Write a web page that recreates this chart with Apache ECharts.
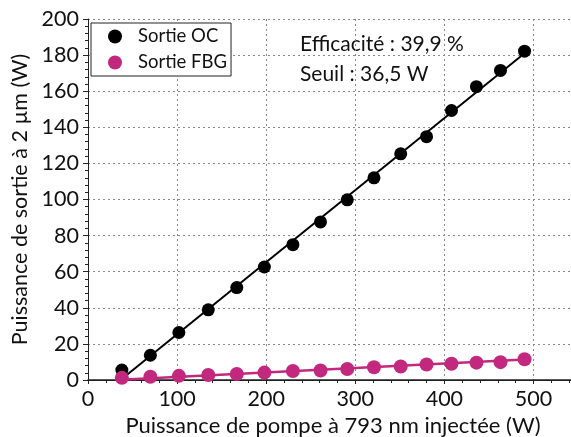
<!DOCTYPE html>
<html>
<head>
<meta charset="utf-8">
<script src="https://cdn.jsdelivr.net/npm/echarts@6/dist/echarts.min.js"></script>
<style>
  html, body { margin: 0; padding: 0; background: #fff; }
  #chart { width: 571px; height: 437px; }
</style>
</head>
<body>
<div id="chart"></div>
<script>
// pump power (W) and measured outputs (W)
const pumpPower = [38, 70, 102, 135, 167, 198, 230, 261, 291, 321, 351, 380, 408, 436, 463, 490];
const outOC = [5.5, 13.7, 26.3, 38.9, 51.2, 62.6, 75.0, 87.6, 99.8, 112.0, 125.3, 134.8, 149.3, 162.5, 171.5, 182.2];
const outFBG = [1.2, 1.8, 2.3, 2.8, 3.3, 4.1, 5.0, 5.3, 6.1, 7.1, 7.5, 8.6, 9.0, 9.6, 9.9, 11.5];

// linear fit endpoints
const fitOC = [[36.5, 0], [490, 181]];
const fitFBG = [[36.5, 0.1], [490, 11.3]];

const xTicks = [0, 550, 100];   // min, max, interval
const yTicks = [0, 200, 20];

const annotations = ['Efficacité : 39,9 %', 'Seuil : 36,5 W'];

const FONT = 'Lato';
const PINK = '#c2287e';

const chart = echarts.init(document.getElementById('chart'));

const pair = (xs, ys) => xs.map((x, i) => [x, ys[i]]);

chart.setOption({
  animation: false,
  textStyle: { fontFamily: FONT },
  grid: { left: 88, top: 19, right: -7, bottom: 57, outerBoundsMode: 'none', containLabel: false },
  legend: {
    left: 91, top: 23,
    orient: 'vertical',
    data: ['Sortie OC', 'Sortie FBG'],
    icon: 'circle',
    itemWidth: 14, itemHeight: 14, itemGap: 7,
    padding: [4, 4, 4, 17],
    borderColor: '#222', borderWidth: 1, backgroundColor: '#fff',
    textStyle: { fontFamily: FONT, fontSize: 18.5, color: '#111', padding: [0, 0, 0, 11], lineHeight: 19 }
  },
  graphic: annotations.map((t, i) => ({
    type: 'text', left: 300, top: 34 + i * 30,
    style: { text: t, fontFamily: FONT, fontSize: 21, fill: '#111' }
  })),
  xAxis: [{
    type: 'value', min: xTicks[0], max: xTicks[1], interval: xTicks[2],
    name: 'Puissance de pompe à 793 nm injectée (W)',
    nameLocation: 'middle', nameGap: 33,
    nameTextStyle: { fontFamily: FONT, fontSize: 22, color: '#111' },
    axisLine: { onZero: false, lineStyle: { color: '#222', width: 1 } },
    axisTick: { show: true, length: 4, lineStyle: { color: '#222' } },
    minorTick: { show: true, splitNumber: 5, length: 3, lineStyle: { color: '#222' } },
    axisLabel: {
      fontFamily: FONT, fontSize: 21.5, color: '#111', margin: 8,
      showMaxLabel: false,
      formatter: v => (v % xTicks[2] === 0 ? String(v) : '')
    },
    splitLine: { show: true, lineStyle: { color: '#888', type: [2, 3], width: 1 } }
  }, {
    type: 'value', position: 'top', min: xTicks[0], max: xTicks[1],
    axisLine: { show: true, lineStyle: { color: '#222', width: 1.5 } },
    axisTick: { show: false }, axisLabel: { show: false }, splitLine: { show: false }
  }],
  yAxis: {
    type: 'value', min: yTicks[0], max: yTicks[1], interval: yTicks[2],
    name: 'Puissance de sortie à 2 µm (W)',
    nameLocation: 'middle', nameGap: 54,
    nameTextStyle: { fontFamily: FONT, fontSize: 21.5, color: '#111' },
    axisLine: { show: true, lineStyle: { color: '#222', width: 1 } },
    axisTick: { show: true, length: 5, lineStyle: { color: '#222' } },
    minorTick: { show: true, splitNumber: 5, length: 3, lineStyle: { color: '#222' } },
    axisLabel: { fontFamily: FONT, fontSize: 21.5, color: '#111', margin: 9 },
    splitLine: { show: true, lineStyle: { color: '#888', type: [2, 3], width: 1 } }
  },
  series: [
    {
      name: 'fitOC', type: 'line', data: fitOC, showSymbol: false, silent: true,
      lineStyle: { color: '#000', width: 2 }, z: 2
    },
    {
      name: 'fitFBG', type: 'line', data: fitFBG, showSymbol: false, silent: true,
      lineStyle: { color: PINK, width: 2.5 }, z: 2
    },
    {
      name: 'Sortie OC', type: 'scatter', data: pair(pumpPower, outOC),
      symbol: 'circle', symbolSize: 13, itemStyle: { color: '#000', opacity: 1 }, z: 3
    },
    {
      name: 'Sortie FBG', type: 'scatter', data: pair(pumpPower, outFBG),
      symbol: 'circle', symbolSize: 14, itemStyle: { color: PINK, opacity: 1 }, z: 4
    }
  ]
});
</script>
</body>
</html>
